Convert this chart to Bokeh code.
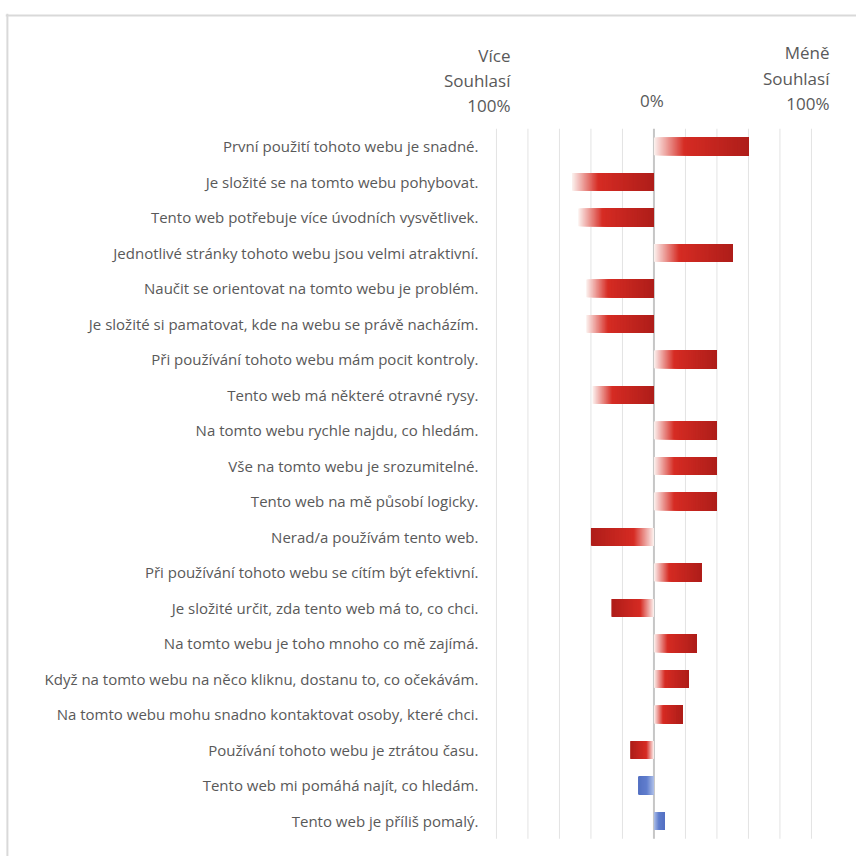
import numpy as np
from bokeh.plotting import figure
from bokeh.models import Range1d, ColumnDataSource, Span
from bokeh.core.properties import value
from bokeh.embed import file_html
from bokeh.resources import INLINE

# Survey statements (top to bottom) and net agreement score in percent
statements = [
    "První použití tohoto webu je snadné.",
    "Je složité se na tomto webu pohybovat.",
    "Tento web potřebuje více úvodních vysvětlivek.",
    "Jednotlivé stránky tohoto webu jsou velmi atraktivní.",
    "Naučit se orientovat na tomto webu je problém.",
    "Je složité si pamatovat, kde na webu se právě nacházím.",
    "Při používání tohoto webu mám pocit kontroly.",
    "Tento web má některé otravné rysy.",
    "Na tomto webu rychle najdu, co hledám.",
    "Vše na tomto webu je srozumitelné.",
    "Tento web na mě působí logicky.",
    "Nerad/a používám tento web.",
    "Při používání tohoto webu se cítím být efektivní.",
    "Je složité určit, zda tento web má to, co chci.",
    "Na tomto webu je toho mnoho co mě zajímá.",
    "Když na tomto webu na něco kliknu, dostanu to, co očekávám.",
    "Na tomto webu mohu snadno kontaktovat osoby, které chci.",
    "Používání tohoto webu je ztrátou času.",
    "Tento web mi pomáhá najít, co hledám.",
    "Tento web je příliš pomalý.",
]
scores = [60, -52, -48, 50, -43, -43, 40, -39, 40, 40, 40,
          -40, 30, -27, 27, 22, 18, -15, -10, 7]
# the last statements are shown in the secondary (blue) tone
tone = ["red"] * 18 + ["blue"] * 2

tick_values = [-100, -80, -60, -40, -20, 0, 20, 40, 60, 80, 100]
left_title = ["Více", "Souhlasí", "100%"]
right_title = ["Méně", "Souhlasí", "100%"]
zero_title = "0%"

FIRST_BLOCK = 11  # first block: gradients run left -> right; second: from zero outward

FONT = "Open Sans"
TEXT_COLOR = "#595959"
FRAME_COLOR = "#d9d9d9"

RED_STOPS = [(0.0, (252, 242, 240)), (0.32, (214, 44, 36)), (1.0, (174, 30, 26))]
BLUE_STOPS = [(0.0, (176, 192, 232)), (0.45, (98, 128, 206)), (1.0, (84, 112, 194))]


def ramp(stops, t):
    for (t0, c0), (t1, c1) in zip(stops[:-1], stops[1:]):
        if t <= t1:
            f = (t - t0) / (t1 - t0) if t1 > t0 else 0.0
            rgb = [int(round(a + (b - a) * f)) for a, b in zip(c0, c1)]
            return "#%02x%02x%02x" % tuple(rgb)
    return "#%02x%02x%02x" % stops[-1][1]


p = figure(width=856, height=856, output_backend="svg", toolbar_location=None,
           x_range=Range1d(-411.7, 128.6), y_range=Range1d(20.0, -3.746),
           min_border_left=5, min_border_top=13, min_border_right=0, min_border_bottom=0)
p.axis.visible = False
p.grid.visible = False
p.outline_line_color = None
p.background_fill_color = "white"
p.border_fill_color = "white"

# chart frame (left and top edges)
p.add_layout(Span(location=-410.5, dimension="height", line_color=FRAME_COLOR, line_width=2))
p.add_layout(Span(location=-3.69, dimension="width", line_color=FRAME_COLOR, line_width=2))

n_rows = len(statements)
rows = np.arange(n_rows)

# vertical gridlines
grid_x = [t for t in tick_values if t != 0]
p.segment(x0=grid_x, x1=grid_x, y0=[-0.5] * len(grid_x), y1=[n_rows - 0.5] * len(grid_x),
          line_color="#e3e3e3", line_width=1)
p.segment(x0=[0], x1=[0], y0=[-0.5], y1=[n_rows - 0.5], line_color="#c6c6c6", line_width=2)

# gradient-filled bars: each slice runs from its start to the bar end,
# drawn in order so later slices cover earlier ones without seams
N = 90
left, right, top, bottom, colors = [], [], [], [], []
for r, v in enumerate(scores):
    lo, hi = min(0, v), max(0, v)
    stops = RED_STOPS if tone[r] == "red" else BLUE_STOPS
    for i in range(N):
        s = (i + 0.5) / N
        if r < FIRST_BLOCK:
            t = s
        else:
            t = s if v > 0 else 1 - s
        left.append(lo + (hi - lo) * i / N)
        right.append(hi)
        top.append(r - 0.25)
        bottom.append(r + 0.25)
        colors.append(ramp(stops, t))

p.quad(left=left, right=right, top=top, bottom=bottom,
       fill_color=colors, line_color=None)

# statement labels
lab = ColumnDataSource(dict(x=[-100] * n_rows, y=rows, text=statements))
p.text(x="x", y="y", text="text", source=lab, x_offset=-18,
       text_align="right", text_baseline="middle",
       text_font=value(FONT), text_font_size="15px", text_color=TEXT_COLOR)

# axis headings
p.text(x=[-100] * 3, y=[-2.56, -1.86, -1.16], text=left_title, x_offset=14,
       text_align="right", text_baseline="middle",
       text_font=value(FONT), text_font_size="17px", text_color=TEXT_COLOR)
p.text(x=[100] * 3, y=[-2.65, -1.92, -1.21], text=right_title, x_offset=18,
       text_align="right", text_baseline="middle",
       text_font=value(FONT), text_font_size="17px", text_color=TEXT_COLOR)
p.text(x=[0], y=[-1.30], text=[zero_title], x_offset=-2,
       text_align="center", text_baseline="middle",
       text_font=value(FONT), text_font_size="17px", text_color=TEXT_COLOR)

open("out.html", "w").write(file_html(p, INLINE))
